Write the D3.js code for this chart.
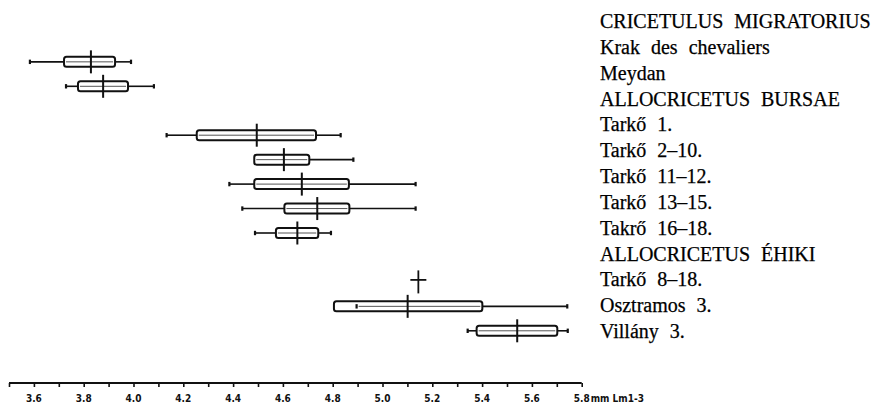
<!DOCTYPE html>
<html>
<head>
<meta charset="utf-8">
<script src="https://cdn.jsdelivr.net/npm/d3@7"></script>
<style>
  html, body { margin: 0; padding: 0; background: #fff; }
  svg { display: block; }
</style>
</head>
<body>
<svg id="chart" width="884" height="404"></svg>
<script>
// ---- data ----
const categories = [
  "CRICETULUS MIGRATORIUS",
  "Krak des chevaliers",
  "Meydan",
  "ALLOCRICETUS BURSAE",
  "Tarkő 1.",
  "Tarkő 2–10.",
  "Tarkő 11–12.",
  "Tarkő 13–15.",
  "Takrő 16–18.",
  "ALLOCRICETUS ÉHIKI",
  "Tarkő 8–18.",
  "Osztramos 3.",
  "Villány 3."
];
// null = heading row or no box
const mins    = [null, 3.584, 3.729, null, 4.133, 4.485, 4.385, 4.437, 4.488, null, null, 4.896, 5.342];
const q1s     = [null, 3.721, 3.777, null, 4.254, 4.485, 4.485, 4.606, 4.572, null, null, 4.805, 5.378];
const medians = [null, 3.829, 3.878, null, 4.495, 4.604, 4.676, 4.738, 4.658, null, null, 5.101, 5.541];
const q3s     = [null, 3.926, 3.978, null, 4.733, 4.706, 4.865, 4.867, 4.742, null, null, 5.401, 5.702];
const maxs    = [null, 3.990, 4.082, null, 4.832, 4.883, 5.133, 5.133, 4.793, null, null, 5.742, 5.744];
// single mean marker (cross) only
const crossValues = [null, null, null, null, null, null, null, null, null, null, 5.144, null, null];

const tickValues = d3.range(35, 59).map(d => d / 10);       // minor ticks 3.5 … 5.8
const tickLabels = ["3.6","3.8","4.0","4.2","4.4","4.6","4.8","5.0","5.2","5.4","5.6","5.8"];
const unitLabel = "mm Lm1-3";

// ---- layout ----
const svg = d3.select("#chart");
const x = d3.scaleLinear().domain([3.5, 5.8]).range([9, 581.7]);
const yBox = d3.scaleLinear().domain([0, 12]).range([37.4, 330.8]);
const yLab = d3.scaleLinear().domain([0, 12]).range([21, 331]);
const axisY = 383;
const serif = '"Liberation Serif"';
const sans = '"DejaVu Sans Condensed"';

const rows = categories.map((c, i) => ({
  i, label: c, min: mins[i], q1: q1s[i], med: medians[i], q3: q3s[i], max: maxs[i], cross: crossValues[i]
}));

// labels
svg.append("g").selectAll("text").data(rows).join("text")
  .attr("x", 600)
  .attr("y", d => yLab(d.i) + 7)
  .style("font-family", serif)
  .style("font-size", "20px")
  .style("word-spacing", "6px")
  .style("fill", "#000")
  .style("stroke", "#000")
  .style("stroke-width", "0.25px")
  .text(d => d.label);

const y = yBox;
const boxes = rows.filter(d => d.med !== null);
const g = svg.append("g").attr("stroke", "#111").attr("fill", "none");

// whiskers outside the box
g.selectAll(".wl").data(boxes.filter(d => d.min < d.q1)).join("line")
  .attr("x1", d => x(d.min)).attr("x2", d => x(d.q1))
  .attr("y1", d => y(d.i)).attr("y2", d => y(d.i))
  .attr("stroke-width", 1.6);
g.selectAll(".wr").data(boxes).join("line")
  .attr("x1", d => x(d.q3)).attr("x2", d => x(d.max))
  .attr("y1", d => y(d.i)).attr("y2", d => y(d.i))
  .attr("stroke-width", 1.6);
// inner line through the box
g.selectAll(".wi").data(boxes).join("line")
  .attr("x1", d => x(Math.max(d.min, d.q1)) + 2).attr("x2", d => x(d.q3) - 2)
  .attr("y1", d => y(d.i)).attr("y2", d => y(d.i))
  .attr("stroke", "#555").attr("stroke-width", 1);
// whisker end caps
const ends = [];
boxes.forEach(d => { if (d.min !== d.q1) ends.push({i: d.i, v: d.min}); ends.push({i: d.i, v: d.max}); });
g.selectAll(".cap").data(ends).join("line")
  .attr("x1", d => x(d.v)).attr("x2", d => x(d.v))
  .attr("y1", d => y(d.i) - 2.2).attr("y2", d => y(d.i) + 2.2)
  .attr("stroke-width", 2.2);
// boxes
g.selectAll(".box").data(boxes).join("rect")
  .attr("x", d => x(d.q1)).attr("width", d => x(d.q3) - x(d.q1))
  .attr("y", d => y(d.i) - 5).attr("height", 10)
  .attr("rx", 2.5)
  .attr("stroke-width", 2);
// medians
g.selectAll(".med").data(boxes).join("line")
  .attr("x1", d => x(d.med)).attr("x2", d => x(d.med))
  .attr("y1", d => y(d.i) - 11.5).attr("y2", d => y(d.i) + 11.5)
  .attr("stroke-width", 2);
// cross markers
const crosses = rows.filter(d => d.cross !== null);
g.selectAll(".cv").data(crosses).join("line")
  .attr("x1", d => x(d.cross)).attr("x2", d => x(d.cross))
  .attr("y1", d => y(d.i) - 11.5).attr("y2", d => y(d.i) + 11.5)
  .attr("stroke-width", 1.8);
g.selectAll(".ch").data(crosses).join("line")
  .attr("x1", d => x(d.cross) - 8).attr("x2", d => x(d.cross) + 8)
  .attr("y1", d => y(d.i) - 2).attr("y2", d => y(d.i) - 2)
  .attr("stroke-width", 1.8);

// axis
const axis = d3.axisBottom(x).tickValues(tickValues).tickSize(4).tickFormat("");
const ag = svg.append("g").attr("transform", `translate(0,${axisY})`).call(axis);
ag.select(".domain").attr("stroke", "#111").attr("stroke-width", 2).attr("d", `M${x(3.5)},0H${x(5.8)}`);
ag.selectAll(".tick line").attr("stroke", "#111").attr("stroke-width", 1.6);

svg.append("g").selectAll("text").data(tickLabels).join("text")
  .attr("x", d => x(+d))
  .attr("y", 402)
  .attr("text-anchor", "middle")
  .style("font-family", sans)
  .style("font-weight", "bold")
  .style("font-size", "10px")
  .style("fill", "#111")
  .text(d => d);

svg.append("text")
  .attr("x", x(5.8) + 9).attr("y", 402)
  .style("font-family", sans)
  .style("font-weight", "bold")
  .style("font-size", "10px")
  .style("fill", "#111")
  .text(unitLabel);
</script>
</body>
</html>
